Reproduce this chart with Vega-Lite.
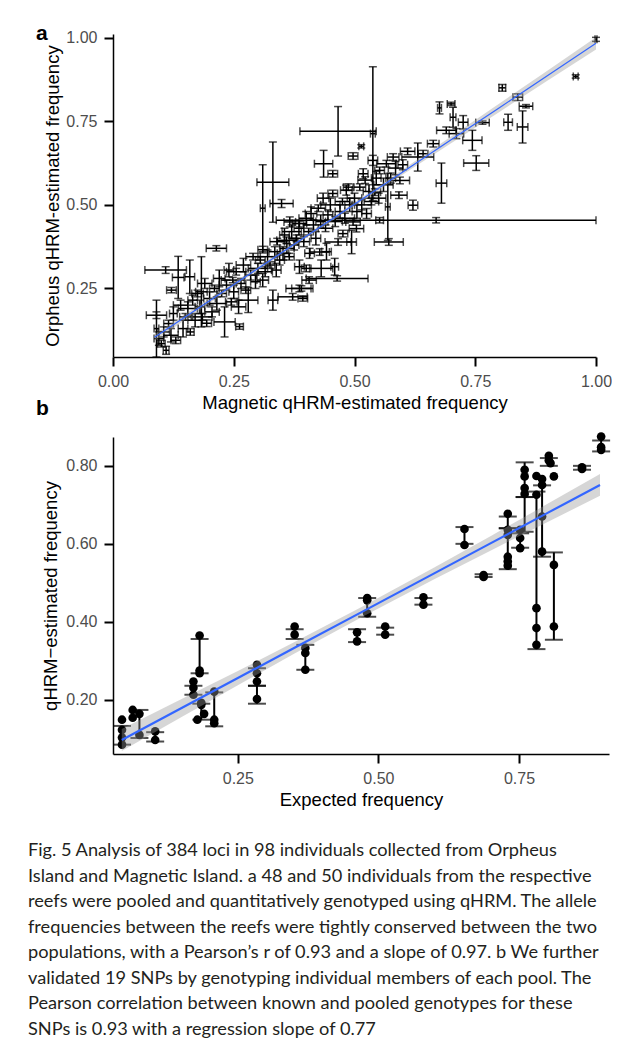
{
"$schema": "https://vega.github.io/schema/vega-lite/v6.json",
"background": "white",
"padding": {"left": 28, "top": 23, "right": 0, "bottom": 0},
"bounds": "flush",
"spacing": 80,
"title": {"text": ["Fig. 5 Analysis of 384 loci in 98 individuals collected from Orpheus", "Island and Magnetic Island. a 48 and 50 individuals from the respective", "reefs were pooled and quantitatively genotyped using qHRM. The allele", "frequencies between the reefs were tightly conserved between the two", "populations, with a Pearson’s r of 0.93 and a slope of 0.97. b We further", "validated 19 SNPs by genotyping individual members of each pool. The", "Pearson correlation between known and pooled genotypes for these", "SNPs is 0.93 with a regression slope of 0.77"], "orient": "bottom", "anchor": "start", "frame": "bounds", "font": "Lato", "fontSize": 18.2, "fontWeight": "normal", "lineHeight": 25.5, "color": "#231F20", "offset": 33.5, "dx": -8},
"datasets": {
"a": [
{"x":0.09,"y":0.13,"xe":0.005,"ye":0.085},{"x":0.09,"y":0.17,"xe":0.021,"ye":0.01},{"x":0.095,"y":0.10,"xe":0.01,"ye":0.02},{"x":0.10,"y":0.085,"xe":0.008,"ye":0.01},{"x":0.105,"y":0.12,"xe":0.012,"ye":0.015},{"x":0.109,"y":0.305,"xe":0.043,"ye":0.01},{"x":0.11,"y":0.065,"xe":0.006,"ye":0.012},{"x":0.115,"y":0.145,"xe":0.01,"ye":0.01},{"x":0.12,"y":0.11,"xe":0.015,"ye":0.02},{"x":0.121,"y":0.245,"xe":0.01,"ye":0.008},
{"x":0.125,"y":0.175,"xe":0.008,"ye":0.02},{"x":0.13,"y":0.095,"xe":0.01,"ye":0.01},{"x":0.135,"y":0.283,"xe":0.012,"ye":0.063},{"x":0.14,"y":0.20,"xe":0.015,"ye":0.015},{"x":0.145,"y":0.13,"xe":0.01,"ye":0.025},{"x":0.15,"y":0.165,"xe":0.012,"ye":0.01},{"x":0.155,"y":0.19,"xe":0.02,"ye":0.02},{"x":0.159,"y":0.285,"xe":0.01,"ye":0.05},{"x":0.16,"y":0.12,"xe":0.008,"ye":0.01},{"x":0.165,"y":0.215,"xe":0.01,"ye":0.015},
{"x":0.17,"y":0.155,"xe":0.015,"ye":0.02},{"x":0.175,"y":0.235,"xe":0.012,"ye":0.01},{"x":0.18,"y":0.195,"xe":0.01,"ye":0.02},{"x":0.183,"y":0.24,"xe":0.012,"ye":0.105},{"x":0.185,"y":0.165,"xe":0.02,"ye":0.01},{"x":0.19,"y":0.265,"xe":0.015,"ye":0.015},{"x":0.194,"y":0.146,"xe":0.01,"ye":0.01},{"x":0.20,"y":0.22,"xe":0.012,"ye":0.02},{"x":0.205,"y":0.18,"xe":0.015,"ye":0.015},{"x":0.21,"y":0.25,"xe":0.01,"ye":0.01},
{"x":0.214,"y":0.37,"xe":0.021,"ye":0.008},{"x":0.215,"y":0.205,"xe":0.02,"ye":0.02},{"x":0.22,"y":0.28,"xe":0.012,"ye":0.025},{"x":0.225,"y":0.235,"xe":0.01,"ye":0.01},{"x":0.231,"y":0.15,"xe":0.022,"ye":0.045},{"x":0.235,"y":0.26,"xe":0.015,"ye":0.015},{"x":0.24,"y":0.305,"xe":0.01,"ye":0.02},{"x":0.245,"y":0.21,"xe":0.012,"ye":0.01},{"x":0.248,"y":0.275,"xe":0.024,"ye":0.008},{"x":0.25,"y":0.24,"xe":0.01,"ye":0.02},
{"x":0.255,"y":0.30,"xe":0.02,"ye":0.01},{"x":0.26,"y":0.195,"xe":0.015,"ye":0.02},{"x":0.262,"y":0.136,"xe":0.008,"ye":0.008},{"x":0.265,"y":0.265,"xe":0.01,"ye":0.015},{"x":0.27,"y":0.32,"xe":0.015,"ye":0.02},{"x":0.275,"y":0.245,"xe":0.01,"ye":0.01},{"x":0.28,"y":0.215,"xe":0.02,"ye":0.037},{"x":0.285,"y":0.29,"xe":0.012,"ye":0.015},{"x":0.29,"y":0.345,"xe":0.015,"ye":0.01},{"x":0.295,"y":0.27,"xe":0.01,"ye":0.02},
{"x":0.30,"y":0.31,"xe":0.02,"ye":0.015},{"x":0.305,"y":0.335,"xe":0.01,"ye":0.01},{"x":0.31,"y":0.275,"xe":0.012,"ye":0.02},{"x":0.31,"y":0.49,"xe":0.005,"ye":0.13},{"x":0.31,"y":0.366,"xe":0.01,"ye":0.01},{"x":0.315,"y":0.30,"xe":0.015,"ye":0.015},{"x":0.32,"y":0.345,"xe":0.02,"ye":0.02},{"x":0.325,"y":0.32,"xe":0.01,"ye":0.01},{"x":0.331,"y":0.215,"xe":0.01,"ye":0.03},{"x":0.331,"y":0.568,"xe":0.033,"ye":0.12},
{"x":0.335,"y":0.36,"xe":0.012,"ye":0.015},{"x":0.338,"y":0.305,"xe":0.01,"ye":0.02},{"x":0.34,"y":0.39,"xe":0.015,"ye":0.01},{"x":0.345,"y":0.335,"xe":0.01,"ye":0.015},{"x":0.349,"y":0.504,"xe":0.024,"ye":0.012},{"x":0.352,"y":0.355,"xe":0.012,"ye":0.02},{"x":0.355,"y":0.41,"xe":0.01,"ye":0.02},{"x":0.359,"y":0.394,"xe":0.02,"ye":0.01},{"x":0.36,"y":0.37,"xe":0.015,"ye":0.015},{"x":0.365,"y":0.345,"xe":0.01,"ye":0.01},
{"x":0.366,"y":0.449,"xe":0.012,"ye":0.015},{"x":0.37,"y":0.42,"xe":0.02,"ye":0.02},{"x":0.372,"y":0.225,"xe":0.03,"ye":0.01},{"x":0.375,"y":0.38,"xe":0.01,"ye":0.015},{"x":0.38,"y":0.40,"xe":0.015,"ye":0.01},{"x":0.385,"y":0.43,"xe":0.01,"ye":0.02},{"x":0.386,"y":0.444,"xe":0.015,"ye":0.01},{"x":0.386,"y":0.25,"xe":0.028,"ye":0.01},{"x":0.386,"y":0.315,"xe":0.01,"ye":0.02},{"x":0.39,"y":0.25,"xe":0.02,"ye":0.008},
{"x":0.393,"y":0.22,"xe":0.01,"ye":0.008},{"x":0.395,"y":0.39,"xe":0.012,"ye":0.015},{"x":0.40,"y":0.46,"xe":0.015,"ye":0.02},{"x":0.40,"y":0.31,"xe":0.01,"ye":0.01},{"x":0.405,"y":0.42,"xe":0.01,"ye":0.01},{"x":0.406,"y":0.275,"xe":0.015,"ye":0.01},{"x":0.407,"y":0.355,"xe":0.01,"ye":0.015},{"x":0.41,"y":0.474,"xe":0.012,"ye":0.02},{"x":0.415,"y":0.44,"xe":0.02,"ye":0.015},{"x":0.42,"y":0.40,"xe":0.01,"ye":0.02},
{"x":0.425,"y":0.49,"xe":0.015,"ye":0.01},{"x":0.428,"y":0.359,"xe":0.02,"ye":0.01},{"x":0.43,"y":0.45,"xe":0.01,"ye":0.02},{"x":0.431,"y":0.31,"xe":0.024,"ye":0.025},{"x":0.435,"y":0.52,"xe":0.012,"ye":0.015},{"x":0.436,"y":0.623,"xe":0.019,"ye":0.04},{"x":0.44,"y":0.43,"xe":0.015,"ye":0.01},{"x":0.442,"y":0.36,"xe":0.01,"ye":0.025},{"x":0.445,"y":0.47,"xe":0.01,"ye":0.015},{"x":0.45,"y":0.50,"xe":0.02,"ye":0.02},
{"x":0.455,"y":0.534,"xe":0.01,"ye":0.01},{"x":0.455,"y":0.593,"xe":0.01,"ye":0.01},{"x":0.459,"y":0.315,"xe":0.008,"ye":0.025},{"x":0.46,"y":0.45,"xe":0.015,"ye":0.015},{"x":0.464,"y":0.28,"xe":0.064,"ye":0.008},{"x":0.466,"y":0.389,"xe":0.027,"ye":0.01},{"x":0.466,"y":0.72,"xe":0.079,"ye":0.074},{"x":0.47,"y":0.48,"xe":0.01,"ye":0.02},{"x":0.475,"y":0.51,"xe":0.015,"ye":0.01},{"x":0.476,"y":0.414,"xe":0.01,"ye":0.01},
{"x":0.48,"y":0.46,"xe":0.02,"ye":0.015},{"x":0.483,"y":0.544,"xe":0.012,"ye":0.015},{"x":0.487,"y":0.553,"xe":0.01,"ye":0.01},{"x":0.49,"y":0.50,"xe":0.01,"ye":0.02},{"x":0.494,"y":0.389,"xe":0.01,"ye":0.035},{"x":0.497,"y":0.449,"xe":0.015,"ye":0.01},{"x":0.497,"y":0.646,"xe":0.01,"ye":0.01},{"x":0.50,"y":0.52,"xe":0.015,"ye":0.015},{"x":0.504,"y":0.429,"xe":0.015,"ye":0.01},{"x":0.505,"y":0.48,"xe":0.01,"ye":0.02},
{"x":0.511,"y":0.553,"xe":0.012,"ye":0.01},{"x":0.514,"y":0.675,"xe":0.005,"ye":0.005},{"x":0.515,"y":0.50,"xe":0.02,"ye":0.015},{"x":0.518,"y":0.593,"xe":0.01,"ye":0.015},{"x":0.522,"y":0.574,"xe":0.015,"ye":0.01},{"x":0.525,"y":0.474,"xe":0.01,"ye":0.015},{"x":0.53,"y":0.54,"xe":0.012,"ye":0.02},{"x":0.535,"y":0.51,"xe":0.015,"ye":0.01},{"x":0.538,"y":0.713,"xe":0.005,"ye":0.2},{"x":0.538,"y":0.633,"xe":0.01,"ye":0.015},
{"x":0.542,"y":0.538,"xe":0.012,"ye":0.01},{"x":0.545,"y":0.58,"xe":0.01,"ye":0.02},{"x":0.55,"y":0.52,"xe":0.015,"ye":0.015},{"x":0.552,"y":0.454,"xe":0.008,"ye":0.008},{"x":0.552,"y":0.603,"xe":0.01,"ye":0.01},{"x":0.56,"y":0.56,"xe":0.02,"ye":0.02},{"x":0.566,"y":0.623,"xe":0.02,"ye":0.01},{"x":0.569,"y":0.494,"xe":0.005,"ye":0.1},{"x":0.571,"y":0.389,"xe":0.03,"ye":0.01},{"x":0.575,"y":0.58,"xe":0.01,"ye":0.015},
{"x":0.58,"y":0.643,"xe":0.012,"ye":0.01},{"x":0.585,"y":0.61,"xe":0.015,"ye":0.02},{"x":0.592,"y":0.529,"xe":0.017,"ye":0.01},{"x":0.594,"y":0.573,"xe":0.02,"ye":0.01},{"x":0.60,"y":0.62,"xe":0.01,"ye":0.015},{"x":0.61,"y":0.66,"xe":0.015,"ye":0.01},{"x":0.621,"y":0.499,"xe":0.01,"ye":0.015},{"x":0.631,"y":0.643,"xe":0.033,"ye":0.042},{"x":0.642,"y":0.653,"xe":0.01,"ye":0.01},{"x":0.663,"y":0.683,"xe":0.012,"ye":0.01},
{"x":0.669,"y":0.454,"xe":0.331,"ye":0.008},{"x":0.676,"y":0.79,"xe":0.004,"ye":0.018},{"x":0.68,"y":0.565,"xe":0.011,"ye":0.06},{"x":0.69,"y":0.723,"xe":0.02,"ye":0.01},{"x":0.70,"y":0.802,"xe":0.008,"ye":0.005},{"x":0.704,"y":0.762,"xe":0.006,"ye":0.03},{"x":0.711,"y":0.713,"xe":0.015,"ye":0.015},{"x":0.725,"y":0.747,"xe":0.01,"ye":0.02},{"x":0.744,"y":0.693,"xe":0.02,"ye":0.03},{"x":0.752,"y":0.625,"xe":0.026,"ye":0.022},
{"x":0.765,"y":0.746,"xe":0.014,"ye":0.005},{"x":0.806,"y":0.85,"xe":0.007,"ye":0.01},{"x":0.818,"y":0.747,"xe":0.009,"ye":0.024},{"x":0.838,"y":0.822,"xe":0.01,"ye":0.01},{"x":0.848,"y":0.733,"xe":0.011,"ye":0.048},{"x":0.855,"y":0.795,"xe":0.014,"ye":0.005},{"x":0.958,"y":0.884,"xe":0.005,"ye":0.005},{"x":1.0,"y":0.995,"xe":0.002,"ye":0.006}
],
"aline": [
{"x":0.086,"fit":0.1037,"lo":0.0935,"hi":0.1139},{"x":0.2,"fit":0.2134,"lo":0.2058,"hi":0.2210},{"x":0.3,"fit":0.3096,"lo":0.3038,"hi":0.3154},{"x":0.4,"fit":0.4058,"lo":0.4008,"hi":0.4108},{"x":0.5,"fit":0.5020,"lo":0.4962,"hi":0.5078},{"x":0.6,"fit":0.5982,"lo":0.5906,"hi":0.6058},{"x":0.7,"fit":0.6944,"lo":0.6844,"hi":0.7044},{"x":0.8,"fit":0.7906,"lo":0.7780,"hi":0.8032},{"x":0.9,"fit":0.8868,"lo":0.8716,"hi":0.9021},{"x":1.0,"fit":0.983,"lo":0.965,"hi":1.001}
],
"bpts": [
{"x":0.044,"y":0.149},{"x":0.044,"y":0.123},{"x":0.044,"y":0.103},{"x":0.044,"y":0.085},
{"x":0.063,"y":0.174},{"x":0.063,"y":0.154},{"x":0.075,"y":0.164},{"x":0.075,"y":0.110},
{"x":0.103,"y":0.119},{"x":0.103,"y":0.097},
{"x":0.171,"y":0.247},{"x":0.171,"y":0.231},{"x":0.171,"y":0.213},{"x":0.182,"y":0.365},{"x":0.182,"y":0.275},{"x":0.182,"y":0.268},{"x":0.185,"y":0.192},{"x":0.185,"y":0.187},{"x":0.19,"y":0.164},{"x":0.178,"y":0.149},{"x":0.208,"y":0.221},{"x":0.208,"y":0.149},{"x":0.208,"y":0.14},
{"x":0.284,"y":0.290},{"x":0.284,"y":0.268},{"x":0.284,"y":0.247},{"x":0.284,"y":0.202},
{"x":0.351,"y":0.388},{"x":0.351,"y":0.367},
{"x":0.370,"y":0.333},{"x":0.370,"y":0.320},{"x":0.370,"y":0.277},
{"x":0.462,"y":0.373},{"x":0.462,"y":0.350},
{"x":0.480,"y":0.461},{"x":0.480,"y":0.455},{"x":0.480,"y":0.422},
{"x":0.512,"y":0.388},{"x":0.512,"y":0.367},
{"x":0.580,"y":0.463},{"x":0.580,"y":0.444},
{"x":0.653,"y":0.638},{"x":0.653,"y":0.597},
{"x":0.687,"y":0.520},{"x":0.687,"y":0.515},
{"x":0.730,"y":0.677},{"x":0.730,"y":0.636},{"x":0.730,"y":0.623},{"x":0.730,"y":0.567},{"x":0.730,"y":0.555},{"x":0.730,"y":0.544},
{"x":0.752,"y":0.636},{"x":0.752,"y":0.615},{"x":0.752,"y":0.589},
{"x":0.760,"y":0.790},{"x":0.760,"y":0.773},{"x":0.760,"y":0.743},{"x":0.760,"y":0.728},
{"x":0.781,"y":0.774},{"x":0.781,"y":0.726},{"x":0.781,"y":0.435},{"x":0.781,"y":0.384},{"x":0.781,"y":0.341},
{"x":0.791,"y":0.766},{"x":0.791,"y":0.751},{"x":0.791,"y":0.670},{"x":0.791,"y":0.580},
{"x":0.803,"y":0.826},{"x":0.803,"y":0.814},{"x":0.806,"y":0.807},
{"x":0.812,"y":0.773},{"x":0.812,"y":0.546},{"x":0.812,"y":0.388},
{"x":0.862,"y":0.796},{"x":0.862,"y":0.792},
{"x":0.896,"y":0.875},{"x":0.896,"y":0.848},{"x":0.896,"y":0.841}
],
"beb": [
{"x":0.044,"lo":0.085,"hi":0.133},{"x":0.075,"lo":0.102,"hi":0.174},{"x":0.103,"lo":0.093,"hi":0.117},{"x":0.171,"lo":0.213,"hi":0.236},{"x":0.182,"lo":0.268,"hi":0.356},{"x":0.185,"lo":0.149,"hi":0.19},{"x":0.208,"lo":0.132,"hi":0.219},
{"x":0.284,"lo":0.236,"hi":0.281},{"x":0.284,"lo":0.19,"hi":0.236},{"x":0.351,"lo":0.356,"hi":0.381},{"x":0.370,"lo":0.277,"hi":0.341},{"x":0.462,"lo":0.348,"hi":0.381},{"x":0.480,"lo":0.413,"hi":0.461},{"x":0.512,"lo":0.367,"hi":0.385},{"x":0.580,"lo":0.444,"hi":0.461},
{"x":0.653,"lo":0.600,"hi":0.643},{"x":0.687,"lo":0.515,"hi":0.522},{"x":0.730,"lo":0.640,"hi":0.670},{"x":0.730,"lo":0.535,"hi":0.640},{"x":0.752,"lo":0.590,"hi":0.627},{"x":0.760,"lo":0.720,"hi":0.809},{"x":0.760,"lo":0.631,"hi":0.720},
{"x":0.781,"lo":0.330,"hi":0.734},{"x":0.791,"lo":0.567,"hi":0.750},{"x":0.803,"lo":0.80,"hi":0.82},{"x":0.812,"lo":0.354,"hi":0.578},{"x":0.862,"lo":0.79,"hi":0.80},{"x":0.896,"lo":0.837,"hi":0.865}
],
"bline": [
{"x":0.0436,"fit":0.0970,"lo":0.069,"hi":0.125},{"x":0.15,"fit":0.1789,"lo":0.156,"hi":0.202},{"x":0.25,"fit":0.2558,"lo":0.2375,"hi":0.2740},{"x":0.35,"fit":0.3327,"lo":0.3179,"hi":0.3474},{"x":0.47,"fit":0.4249,"lo":0.4119,"hi":0.4379},{"x":0.6,"fit":0.5249,"lo":0.5099,"hi":0.5399},{"x":0.7,"fit":0.6018,"lo":0.5831,"hi":0.6204},{"x":0.8,"fit":0.6787,"lo":0.6555,"hi":0.7019},{"x":0.894,"fit":0.7510,"lo":0.7232,"hi":0.7788}
]
},
"vconcat": [
{
"width": 483, "height": 323,
"title": {"text": "a", "anchor": "start", "frame": "group", "font": "Liberation Sans", "fontSize": 21, "fontWeight": "bold", "color": "black", "dx": -77, "dy": 31.5, "offset": 0, "baseline": "alphabetic"},
"layer": [
{"data": {"name": "a"}, "mark": {"type": "errorbar", "ticks": {"size": 8, "thickness": 1.5}, "rule": {"strokeWidth": 1.5}, "color": "black"},
 "encoding": {
  "x": {"field": "x", "type": "quantitative", "title": "Magnetic qHRM-estimated frequency", "scale": {"domain": [0, 1], "nice": false, "zero": false}, "axis": {"values": [0, 0.25, 0.5, 0.75, 1], "format": ".2f"}},
  "xError": {"field": "xe"},
  "y": {"field": "y", "type": "quantitative", "title": "Orpheus qHRM-estimated frequency", "scale": {"domain": [0.045, 1.011], "nice": false, "zero": false}, "axis": {"values": [0.25, 0.5, 0.75, 1], "format": ".2f", "titlePadding": 3}}
 }},
{"data": {"name": "a"}, "mark": {"type": "errorbar", "ticks": {"size": 8, "thickness": 1.5}, "rule": {"strokeWidth": 1.5}, "color": "black"},
 "encoding": {
  "y": {"field": "y", "type": "quantitative", "title": "Orpheus qHRM-estimated frequency"},
  "yError": {"field": "ye"},
  "x": {"field": "x", "type": "quantitative", "title": "Magnetic qHRM-estimated frequency"}
 }},
{"data": {"name": "aline"}, "mark": {"type": "area", "color": "#999999", "opacity": 0.4},
 "encoding": {"x": {"field": "x", "type": "quantitative", "title": "Magnetic qHRM-estimated frequency"}, "y": {"field": "lo", "type": "quantitative", "title": "Orpheus qHRM-estimated frequency"}, "y2": {"field": "hi"}}},
{"data": {"name": "aline"}, "mark": {"type": "line", "color": "#3366FF", "strokeWidth": 1.2},
 "encoding": {"x": {"field": "x", "type": "quantitative", "title": "Magnetic qHRM-estimated frequency"}, "y": {"field": "fit", "type": "quantitative", "title": "Orpheus qHRM-estimated frequency"}}}
]
},
{
"width": 496, "height": 317,
"title": {"text": "b", "anchor": "start", "frame": "group", "font": "Liberation Sans", "fontSize": 21, "fontWeight": "bold", "color": "black", "dx": -77, "dy": 4, "offset": 0, "baseline": "alphabetic"},
"layer": [
{"data": {"name": "beb"}, "mark": {"type": "errorbar", "ticks": {"size": 18, "thickness": 2}, "rule": {"strokeWidth": 2}, "color": "black"},
 "encoding": {
  "x": {"field": "x", "type": "quantitative", "title": "Expected frequency", "scale": {"domain": [0.028, 0.91], "nice": false, "zero": false}, "axis": {"values": [0.25, 0.5, 0.75], "format": ".2f"}},
  "y": {"field": "lo", "type": "quantitative", "title": "qHRM−estimated frequency", "scale": {"domain": [0.061, 0.874], "nice": false, "zero": false}, "axis": {"values": [0.2, 0.4, 0.6, 0.8], "format": ".2f"}},
  "y2": {"field": "hi"}
 }},
{"data": {"name": "bpts"}, "mark": {"type": "circle", "size": 75, "color": "black", "opacity": 1},
 "encoding": {"x": {"field": "x", "type": "quantitative", "title": "Expected frequency"}, "y": {"field": "y", "type": "quantitative", "title": "qHRM−estimated frequency"}}},
{"data": {"name": "bline"}, "mark": {"type": "area", "color": "#999999", "opacity": 0.4},
 "encoding": {"x": {"field": "x", "type": "quantitative", "title": "Expected frequency"}, "y": {"field": "lo", "type": "quantitative", "title": "qHRM−estimated frequency"}, "y2": {"field": "hi"}}},
{"data": {"name": "bline"}, "mark": {"type": "line", "color": "#3366FF", "strokeWidth": 2.2},
 "encoding": {"x": {"field": "x", "type": "quantitative", "title": "Expected frequency"}, "y": {"field": "fit", "type": "quantitative", "title": "qHRM−estimated frequency"}}}
]
}
],
"config": {
 "view": {"stroke": null},
 "font": "Liberation Sans",
 "axis": {"domainColor": "black", "domainWidth": 1.5, "tickColor": "black", "tickWidth": 2, "tickSize": 9, "labelFont": "Liberation Sans", "labelFontSize": 16, "labelColor": "#4D4D4D", "labelPadding": 7, "labelFlush": false, "labelOverlap": false, "titleFont": "Liberation Sans", "titleFontSize": 18.5, "titleFontWeight": "normal", "titleColor": "black", "grid": false},
 "axisX": {"titlePadding": 4},
 "axisY": {"titlePadding": 5}
}
}
